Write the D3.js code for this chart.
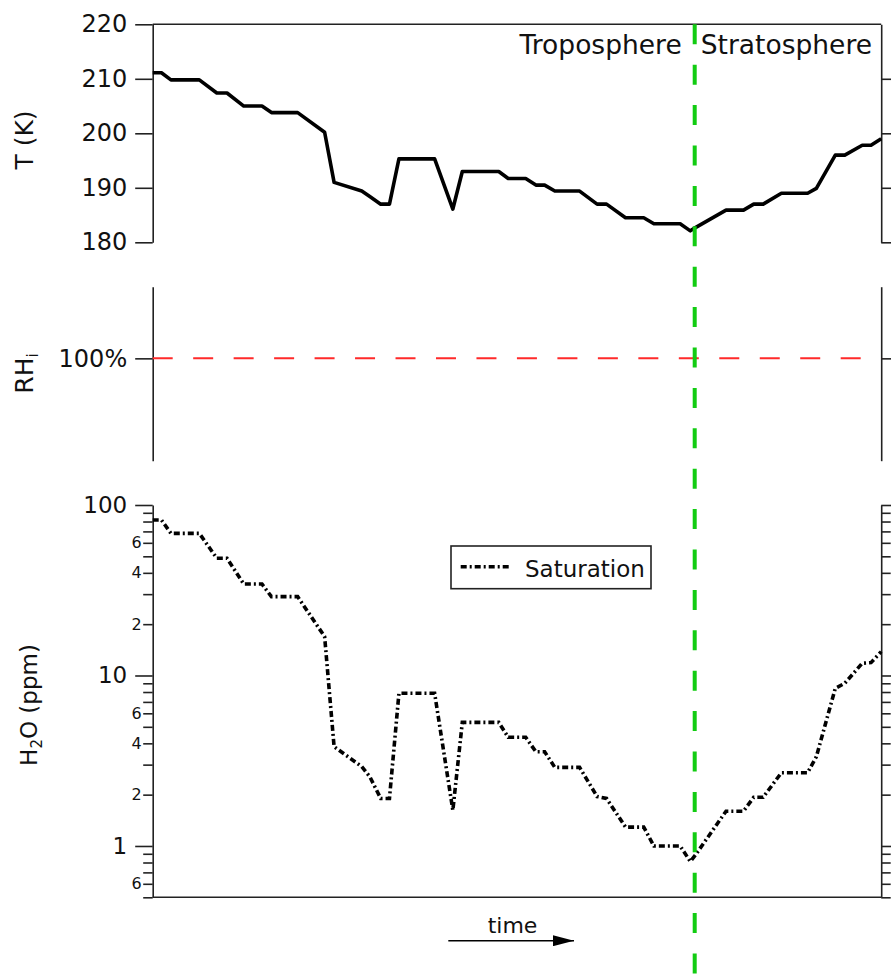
<!DOCTYPE html>
<html>
<head>
<meta charset="utf-8">
<script src="https://cdn.jsdelivr.net/npm/d3@7"></script>
<style>
  html, body { margin: 0; padding: 0; background: #fff; }
  svg { display: block; }
  text { font-family: "DejaVu Sans", sans-serif; fill: #111; }
</style>
</head>
<body>
<svg id="chart" width="891" height="974"></svg>
<script>
// Sample times (arbitrary units along the flight track)
const timeSteps = [0, 1.2, 2.5, 6.4, 8.8, 10.2, 12.5, 15.0, 16.3, 19.9,
  23.6, 24.9, 28.7, 29.8, 31.3, 32.5, 33.8, 38.7, 41.2, 42.5,
  47.5, 48.8, 51.2, 52.6, 53.8, 55.2, 58.6, 61.0, 62.3, 64.9,
  67.4, 68.8, 72.4, 73.8, 74.5, 78.7, 81.1, 82.5, 83.8, 86.3,
  89.9, 91.1, 93.7, 95.0, 97.4, 98.6, 100];

// Air temperature (K)
const temperatureK = [211.1, 211.1, 209.8, 209.8, 207.4, 207.4, 205.0, 205.0, 203.8, 203.8,
  200.2, 191.0, 189.4, 188.4, 187.0, 187.0, 195.3, 195.3, 186.1, 193.0,
  193.0, 191.7, 191.7, 190.5, 190.5, 189.4, 189.4, 187.0, 187.0, 184.5,
  184.5, 183.4, 183.4, 182.1, 182.7, 185.9, 185.9, 187.0, 187.0, 189.0,
  189.0, 189.9, 196.0, 196.0, 197.8, 197.8, 199.0];

// Saturation water vapour mixing ratio over ice (ppm)
const saturationPpm = [81.7, 81.7, 68.2, 68.2, 48.7, 48.7, 34.4, 34.4, 29.0, 29.0,
  16.9, 3.82, 2.92, 2.55, 1.90, 1.90, 7.86, 7.86, 1.62, 5.31,
  5.31, 4.34, 4.34, 3.57, 3.57, 2.89, 2.89, 1.95, 1.90, 1.29,
  1.29, 1.0, 1.0, 0.81, 0.885, 1.60, 1.60, 1.93, 1.93, 2.69,
  2.69, 3.34, 8.41, 9.0, 11.8, 11.9, 13.8];

// Tropopause crossing time
const tropopauseTime = 74.4;

// Axis ticks
const temperatureTicks = [180, 190, 200, 210, 220];
const rhTicks = [100];
const h2oMajorTicks = [1, 10, 100];
const h2oMinorTicks = [0.5, 0.6, 0.7, 0.8, 0.9, 2, 3, 4, 5, 6, 7, 8, 9, 20, 30, 40, 50, 60, 70, 80, 90];
const h2oLabelledMinor = [0.6, 2, 4, 6, 20, 40, 60];

const regionLabels = ["Troposphere", "Stratosphere"];
const legendLabel = "Saturation";

const svg = d3.select("#chart");
const axisColor = "#222";

const x = d3.scaleLinear().domain([0, 100]).range([152.7, 881.2]);
const yT = d3.scaleLinear().domain([180, 220]).range([242.3, 24.3]);
const yRH = d3.scaleLinear().domain([0, 170]).range([460.7, 286.7]);
const yW = d3.scaleLog().domain([0.5, 100]).range([897.3, 505]);

const majorLen = 17.5, minorLen = 9.5;

function styleAxis(g) {
  g.select(".domain").attr("stroke", axisColor).attr("stroke-width", 1.6);
  g.selectAll(".tick line").attr("stroke", axisColor).attr("stroke-width", 1.6);
  g.selectAll(".tick text").attr("font-family", "DejaVu Sans, sans-serif").attr("fill", "#111");
}

// ---------- Temperature panel ----------
const gTL = svg.append("g").attr("transform", `translate(${x.range()[0]},0)`)
  .call(d3.axisLeft(yT).tickValues(temperatureTicks).tickSize(majorLen).tickSizeOuter(0).tickPadding(8).tickFormat(d3.format("d")));
styleAxis(gTL);
gTL.selectAll(".tick text").attr("font-size", 24);

const gTR = svg.append("g").attr("transform", `translate(${x.range()[1]},0)`)
  .call(d3.axisRight(yT).tickValues(temperatureTicks.slice(0, 4)).tickSize(majorLen).tickSizeOuter(0).tickFormat(""));
styleAxis(gTR);

svg.append("line")
  .attr("x1", x.range()[0]).attr("x2", x.range()[1])
  .attr("y1", yT(220)).attr("y2", yT(220))
  .attr("stroke", axisColor).attr("stroke-width", 1.6);

const tempLine = d3.line().x((d, i) => x(timeSteps[i])).y(d => yT(d));
svg.append("path")
  .datum(temperatureK)
  .attr("d", tempLine)
  .attr("fill", "none")
  .attr("stroke", "#000")
  .attr("stroke-width", 3.6)
  .attr("stroke-linejoin", "round");

svg.append("text")
  .attr("transform", "translate(33.3,140) rotate(-90)")
  .attr("text-anchor", "middle")
  .attr("font-size", 25)
  .text("T (K)");

svg.append("text")
  .attr("x", x(tropopauseTime) - 13)
  .attr("y", 54)
  .attr("text-anchor", "end")
  .attr("font-size", 26.5)
  .text(regionLabels[0]);
svg.append("text")
  .attr("x", x(tropopauseTime) + 6)
  .attr("y", 54)
  .attr("text-anchor", "start")
  .attr("font-size", 26.5)
  .text(regionLabels[1]);

// ---------- Relative humidity panel ----------
const gRL = svg.append("g").attr("transform", `translate(${x.range()[0]},0)`)
  .call(d3.axisLeft(yRH).tickValues(rhTicks).tickSize(majorLen).tickSizeOuter(0).tickPadding(8).tickFormat(d => d + "%"));
styleAxis(gRL);
gRL.selectAll(".tick text").attr("font-size", 24);

const gRR = svg.append("g").attr("transform", `translate(${x.range()[1]},0)`)
  .call(d3.axisRight(yRH).tickValues(rhTicks).tickSize(majorLen).tickSizeOuter(0).tickFormat(""));
styleAxis(gRR);

svg.append("line")
  .attr("x1", x.range()[0]).attr("x2", x.range()[1])
  .attr("y1", yRH(100)).attr("y2", yRH(100))
  .attr("stroke", "#ff2a2a")
  .attr("stroke-width", 2)
  .attr("stroke-dasharray", "20 20.47");

const rhTitle = svg.append("text")
  .attr("transform", "translate(33.3,373.5) rotate(-90)")
  .attr("text-anchor", "middle")
  .attr("font-size", 25);
rhTitle.append("tspan").text("RH");
rhTitle.append("tspan").attr("font-size", 15).attr("dy", 5).text("i");

// ---------- Water vapour panel ----------
const h2oTicks = h2oMinorTicks.concat(h2oMajorTicks).sort((a, b) => a - b);
const isMajor = d => h2oMajorTicks.includes(d);
const fmtW = d => {
  if (isMajor(d)) return String(d);
  if (h2oLabelledMinor.includes(d)) return String(+(d / Math.pow(10, Math.floor(Math.log10(d) + 1e-9))).toFixed(0));
  return "";
};

const gWL = svg.append("g").attr("transform", `translate(${x.range()[0]},0)`)
  .call(d3.axisLeft(yW).tickValues(h2oTicks).tickSize(majorLen).tickSizeOuter(0).tickFormat(fmtW));
styleAxis(gWL);
gWL.selectAll(".tick line").attr("x2", d => isMajor(d) ? -majorLen : -minorLen);
gWL.selectAll(".tick text")
  .attr("x", d => isMajor(d) ? -(majorLen + 8) : -(minorLen + 1.5))
  .attr("font-size", d => isMajor(d) ? 23 : 16);

const gWR = svg.append("g").attr("transform", `translate(${x.range()[1]},0)`)
  .call(d3.axisRight(yW).tickValues(h2oTicks).tickSize(majorLen).tickSizeOuter(0).tickFormat(""));
styleAxis(gWR);
gWR.selectAll(".tick line").attr("x2", d => isMajor(d) ? majorLen : minorLen);

svg.append("line")
  .attr("x1", x.range()[0]).attr("x2", x.range()[1])
  .attr("y1", yW(0.5)).attr("y2", yW(0.5))
  .attr("stroke", axisColor).attr("stroke-width", 1.6);

const satDash = "6 3 2 3";
const satLine = d3.line().x((d, i) => x(timeSteps[i])).y(d => yW(d));
svg.append("path")
  .datum(saturationPpm)
  .attr("d", satLine)
  .attr("fill", "none")
  .attr("stroke", "#000")
  .attr("stroke-width", 3.6)
  .attr("stroke-dasharray", satDash);

const h2oTitle = svg.append("text")
  .attr("transform", "translate(37,705) rotate(-90)")
  .attr("text-anchor", "middle")
  .attr("font-size", 23);
h2oTitle.append("tspan").text("H");
h2oTitle.append("tspan").attr("font-size", 15).attr("dy", 5).text("2");
h2oTitle.append("tspan").attr("dy", -5).text("O (ppm)");

// Legend
const legend = svg.append("g").attr("transform", "translate(451,546)");
legend.append("rect")
  .attr("width", 200).attr("height", 42.7)
  .attr("fill", "#fff").attr("stroke", axisColor).attr("stroke-width", 1.6);
legend.append("line")
  .attr("x1", 9.7).attr("x2", 60.7).attr("y1", 20.7).attr("y2", 20.7)
  .attr("stroke", "#000").attr("stroke-width", 3.4)
  .attr("stroke-dasharray", satDash);
legend.append("text")
  .attr("x", 74).attr("y", 30.5)
  .attr("font-size", 23)
  .text(legendLabel);

// Time arrow
svg.append("defs").append("marker")
  .attr("id", "arrowHead")
  .attr("viewBox", "0 0 21 11")
  .attr("refX", 21).attr("refY", 5.5)
  .attr("markerWidth", 21).attr("markerHeight", 11)
  .attr("markerUnits", "userSpaceOnUse")
  .attr("orient", "auto")
  .append("path").attr("d", "M0,0 L21,5.5 L0,11 Z").attr("fill", "#000");
svg.append("line")
  .attr("x1", 448.3).attr("x2", 574).attr("y1", 940.7).attr("y2", 940.7)
  .attr("stroke", "#000").attr("stroke-width", 1.4)
  .attr("marker-end", "url(#arrowHead)");
svg.append("text")
  .attr("x", 512.5).attr("y", 933)
  .attr("text-anchor", "middle")
  .attr("font-size", 22)
  .text("time");

// Tropopause marker across all panels
svg.append("line")
  .attr("x1", x(tropopauseTime)).attr("x2", x(tropopauseTime))
  .attr("y1", yT(220)).attr("y2", 974)
  .attr("stroke", "#12cc12")
  .attr("stroke-width", 4)
  .attr("stroke-dasharray", "20 20.4");
</script>
</body>
</html>
